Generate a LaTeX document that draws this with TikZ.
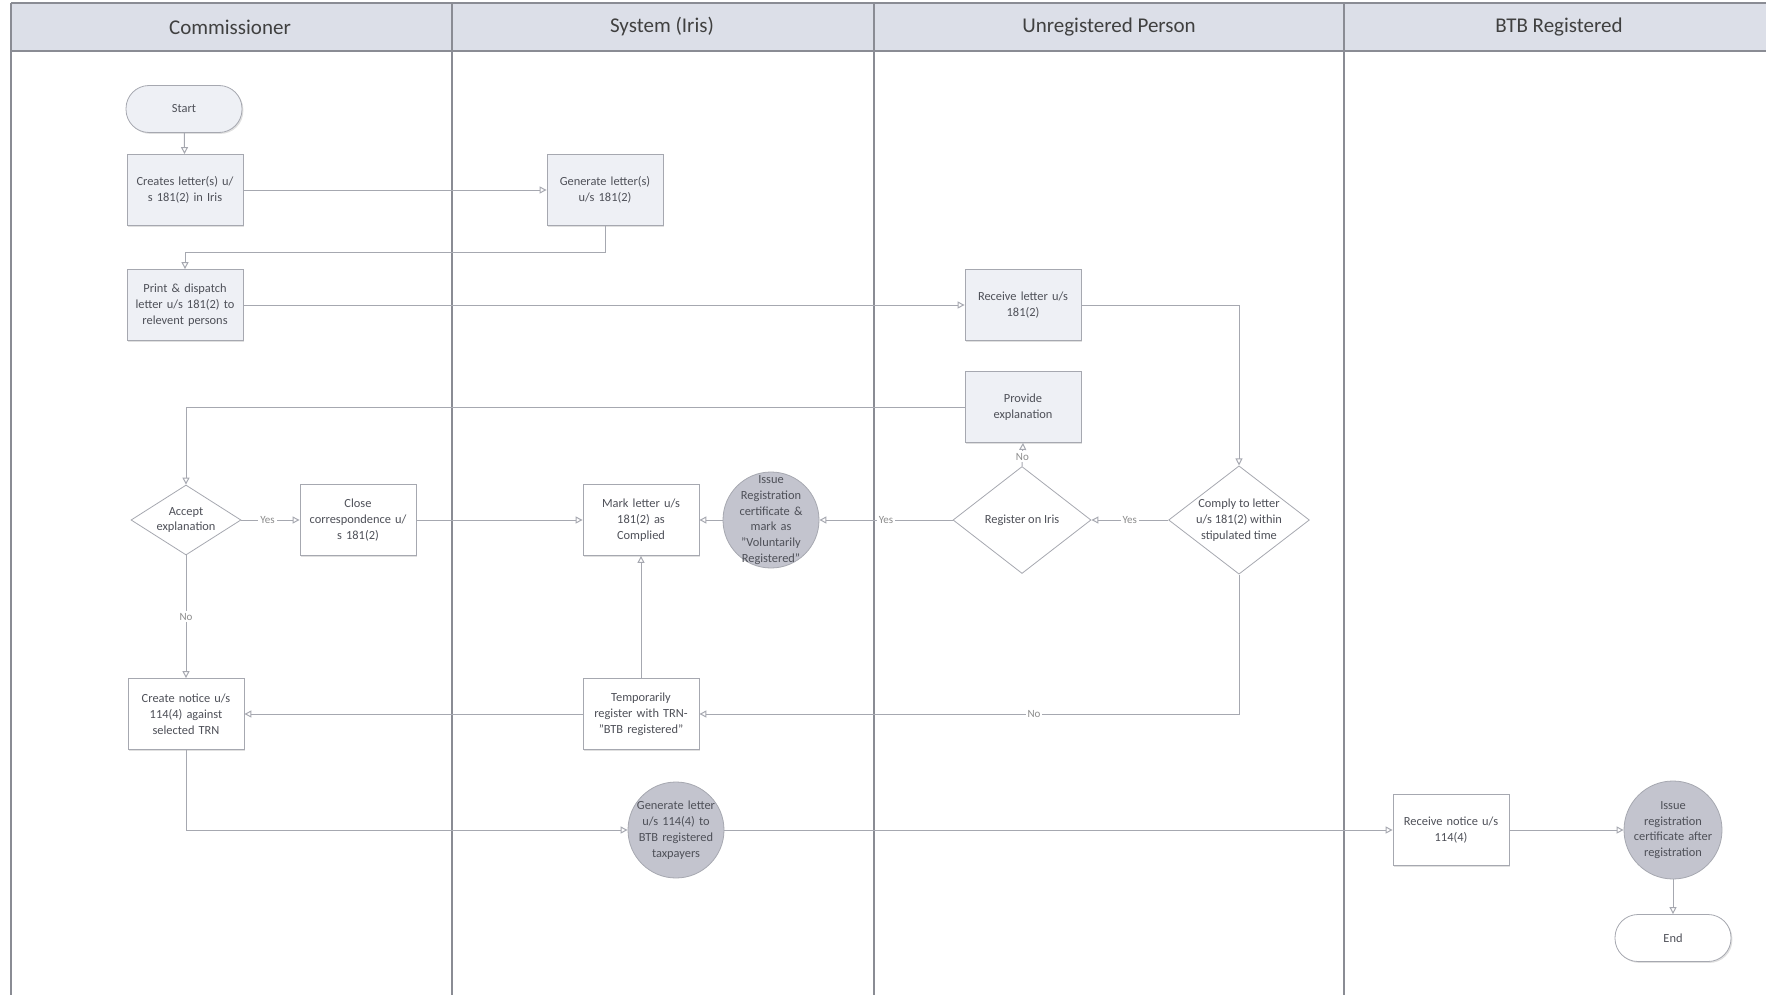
\documentclass[tikz,border=0pt]{standalone}
\usepackage{fontspec}
\setmainfont{Carlito}
\usetikzlibrary{shapes.geometric,arrows.meta,calc,shadows}
\definecolor{hdr}{HTML}{DCDFE8}
\definecolor{lane}{HTML}{8A8C94}
\definecolor{ln}{HTML}{A6A8B0}
\definecolor{bx}{HTML}{EEF0F5}
\definecolor{circ}{HTML}{C3C4CE}
\definecolor{txt}{HTML}{4E5058}
\begin{document}
\begin{tikzpicture}[x=0.5pt,y=-0.5pt,
 every node/.style={text=txt, font=\fontsize{6.2}{7.9}\selectfont, align=center},
 shad/.style={drop shadow={shadow xshift=0.7pt, shadow yshift=-0.7pt, fill=black!12, opacity=1}},
 box/.style={draw=ln, fill=bx, shad, minimum width=58pt, minimum height=35.5pt, inner sep=1pt, text width=54pt},
 pill/.style={draw=ln, fill=bx, shad, rounded corners=11.5pt, minimum width=58pt, minimum height=23.5pt},
 dia/.style={draw=ln, fill=white, diamond, inner sep=0pt, minimum width=69pt, minimum height=53.5pt, aspect=1.3},
 circ/.style={draw=ln, fill=circ, circle, inner sep=-6pt, minimum size=48pt, text width=40pt},
 hdrtext/.style={text=black!75, font=\fontsize{10.5}{12}\selectfont},
 arr/.style={draw=ln, line width=0.5pt, -{Triangle[open,length=3.5pt,width=3.5pt]}},
 lbl/.style={fill=white, inner sep=1pt, text=black!45, font=\fontsize{5.5}{6}\selectfont}
]
\useasboundingbox (0,0) rectangle (1766,995);
% header
\fill[hdr] (11,3) rectangle (1766,51);
\draw[lane, line width=0.6pt] (11,3) -- (1766,3);
\draw[lane, line width=0.6pt] (11,51) -- (1766,51);
\foreach \xx in {11,452,874,1344} \draw[lane, line width=0.6pt] (\xx,3) -- (\xx,995);
\node[hdrtext] (h1) at (230,27) {Commissioner};
\node[hdrtext] (h2) at (662,27) {System (Iris)};
\node[hdrtext] (h3) at (1109,27) {Unregistered Person};
\node[hdrtext] (h4) at (1559,27) {BTB Registered};

% nodes
\node[pill] (start) at (184,109) {Start};
\node[box] (create) at (185,190) {Creates letter(s) u/\\s 181(2) in Iris};
\node[box] (gen) at (605,190) {Generate letter(s)\\u/s 181(2)};
\node[box] (print) at (185,305) {Print \& dispatch\\letter u/s 181(2) to\\relevent persons};
\node[box] (recv) at (1023,305) {Receive letter u/s\\181(2)};
\node[box] (prov) at (1023,407) {Provide\\explanation};
\node[dia] (reg) at (1022,520) {Register on Iris};
\node[dia] (comply) at (1239,520) {Comply to letter\\u/s 181(2) within\\stipulated time};
\node[circ] (cert1) at (771,520) {Issue\\Registration\\certificate \&\\mark as\\"Voluntarily\\Registered"};
\node[box, fill=white] (mark) at (641,520) {Mark letter u/s\\181(2) as\\Complied};
\node[box, fill=white] (close) at (358,520) {Close\\correspondence u/\\s 181(2)};
\node[dia, minimum width=55pt, minimum height=35pt, aspect=1.57] (accept) at (186,520) {Accept\\explanation};
\node[box, fill=white] (notice) at (186,714) {Create notice u/s\\114(4) against\\selected TRN};
\node[box, fill=white] (temp) at (641,714) {Temporarily\\register with TRN-\\"BTB registered"};
\node[circ] (gen2) at (676,830) {Generate letter\\u/s 114(4) to\\BTB registered\\taxpayers};
\node[box, fill=white] (recvn) at (1451,830) {Receive notice u/s\\114(4)};
\node[circ, minimum size=49pt] (cert2) at (1673,830) {Issue\\registration\\certificate after\\registration};
\node[pill, fill=white] (end) at (1673,938) {End};

% connectors
\coordinate (y252) at (0,252);
\draw[arr] (start) -- (create);
\draw[arr] (create) -- (gen);
\draw[arr] (gen.south) -- (gen.south |- y252) -| (print.north);
\draw[arr] (print) -- (recv);
\draw[arr] (recv.east) -| (comply.north);
\draw[arr] (comply) -- node[lbl] {Yes} (reg);
\draw[arr] (reg.north) -- node[lbl, pos=0.4] {No} (prov.south);
\draw[arr] (prov.west) -| (accept.north);
\draw[arr] (reg) -- node[lbl, pos=0.5] {Yes} (cert1);
\draw[arr] (cert1) -- (mark);
\draw[arr] (accept) -- node[lbl, pos=0.45] {Yes} (close);
\draw[arr] (close) -- (mark);
\draw[arr] (accept) -- node[lbl] {No} (notice);
\draw[arr] (comply.south) |- node[lbl, pos=0.69] {No} (temp.east);
\draw[arr] (temp) -- (notice);
\draw[arr] (temp) -- (mark);
\draw[arr] (notice.south) |- (gen2.west);
\draw[arr] (gen2) -- (recvn);
\draw[arr] (recvn) -- (cert2);
\draw[arr] (cert2) -- (end);
\end{tikzpicture}
\end{document}
